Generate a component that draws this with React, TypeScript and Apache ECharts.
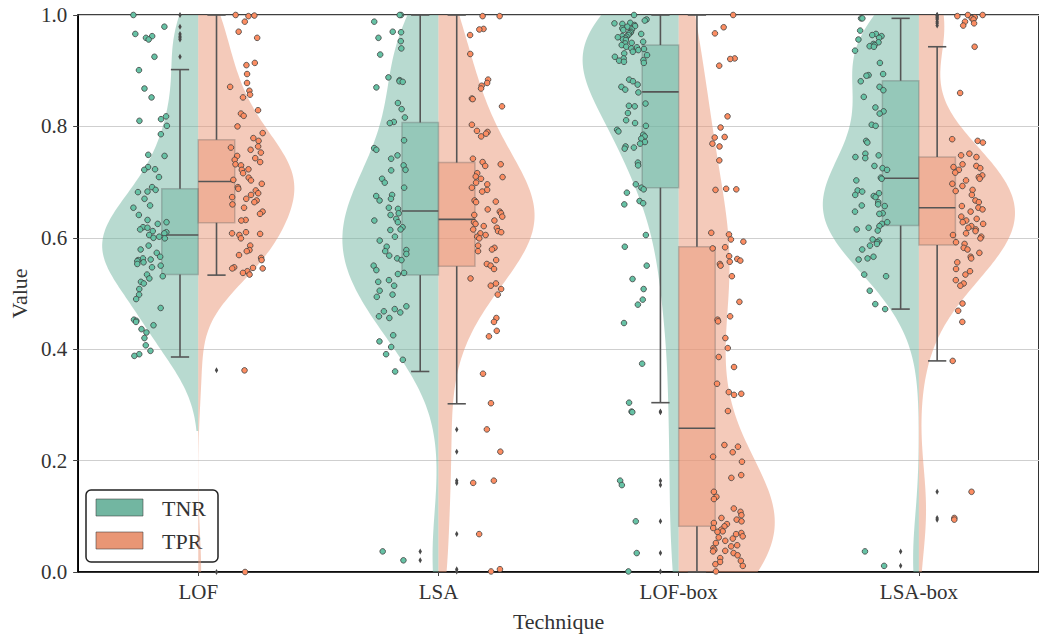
import React, { useEffect, useRef } from 'react';
import * as echarts from 'echarts';

const categories = ['LOF', 'LSA', 'LOF-box', 'LSA-box'];
const hueNames = ['TNR', 'TPR'];
const yTickValues = [0, 0.2, 0.4, 0.6, 0.8, 1.0];

// ---- strip values ----
const tnrLOF = [1.0, 0.979, 0.966, 0.962, 0.959, 0.956, 0.925, 0.901, 0.868, 0.852, 0.818, 0.813, 0.81, 0.801, 0.786, 0.749, 0.747, 0.727, 0.723, 0.722, 0.709, 0.691, 0.686, 0.683, 0.682, 0.67, 0.658, 0.654, 0.641, 0.632, 0.628, 0.625, 0.619, 0.618, 0.615, 0.612, 0.61, 0.608, 0.605, 0.602, 0.6, 0.599, 0.586, 0.579, 0.573, 0.566, 0.563, 0.561, 0.56, 0.558, 0.556, 0.553, 0.55, 0.547, 0.534, 0.531, 0.527, 0.521, 0.518, 0.508, 0.498, 0.49, 0.474, 0.453, 0.451, 0.449, 0.443, 0.436, 0.43, 0.42, 0.407, 0.397, 0.391, 0.388];
const tprLOF = [1.0, 0.999, 0.998, 0.988, 0.97, 0.959, 0.914, 0.91, 0.894, 0.878, 0.871, 0.864, 0.857, 0.852, 0.829, 0.823, 0.819, 0.8, 0.788, 0.779, 0.774, 0.764, 0.762, 0.758, 0.753, 0.747, 0.743, 0.74, 0.736, 0.732, 0.73, 0.723, 0.722, 0.716, 0.708, 0.704, 0.703, 0.697, 0.691, 0.688, 0.685, 0.68, 0.677, 0.673, 0.67, 0.667, 0.664, 0.66, 0.654, 0.647, 0.643, 0.632, 0.631, 0.61, 0.608, 0.607, 0.605, 0.599, 0.586, 0.578, 0.576, 0.569, 0.564, 0.56, 0.547, 0.546, 0.545, 0.545, 0.54, 0.537, 0.534, 0.362, 0.0];
const tnrLSA = [1.0, 1.0, 0.988, 0.97, 0.969, 0.959, 0.953, 0.94, 0.929, 0.888, 0.883, 0.881, 0.88, 0.87, 0.842, 0.831, 0.816, 0.808, 0.806, 0.775, 0.761, 0.758, 0.748, 0.742, 0.73, 0.722, 0.721, 0.706, 0.699, 0.69, 0.677, 0.675, 0.67, 0.667, 0.654, 0.652, 0.644, 0.641, 0.634, 0.631, 0.628, 0.619, 0.615, 0.614, 0.602, 0.595, 0.584, 0.578, 0.576, 0.571, 0.568, 0.563, 0.56, 0.55, 0.542, 0.537, 0.535, 0.524, 0.521, 0.514, 0.505, 0.498, 0.494, 0.477, 0.472, 0.468, 0.466, 0.459, 0.456, 0.425, 0.414, 0.404, 0.391, 0.381, 0.36, 0.037, 0.021];
const tprLSA = [0.998, 0.998, 0.975, 0.974, 0.964, 0.93, 0.884, 0.878, 0.873, 0.868, 0.85, 0.849, 0.836, 0.803, 0.792, 0.79, 0.787, 0.782, 0.742, 0.736, 0.732, 0.729, 0.716, 0.71, 0.709, 0.706, 0.699, 0.696, 0.69, 0.686, 0.683, 0.667, 0.665, 0.664, 0.651, 0.647, 0.644, 0.641, 0.638, 0.631, 0.628, 0.625, 0.621, 0.618, 0.615, 0.612, 0.61, 0.608, 0.605, 0.602, 0.599, 0.586, 0.582, 0.579, 0.576, 0.56, 0.553, 0.55, 0.544, 0.527, 0.518, 0.514, 0.508, 0.498, 0.456, 0.449, 0.433, 0.423, 0.356, 0.303, 0.256, 0.216, 0.164, 0.16, 0.068, 0.005, 0.001];
const tnrLOFbox = [1.0, 0.992, 0.99, 0.986, 0.985, 0.984, 0.982, 0.98, 0.979, 0.976, 0.974, 0.973, 0.97, 0.968, 0.967, 0.966, 0.964, 0.962, 0.961, 0.96, 0.958, 0.956, 0.955, 0.952, 0.95, 0.949, 0.946, 0.943, 0.942, 0.94, 0.939, 0.937, 0.934, 0.931, 0.928, 0.925, 0.922, 0.919, 0.918, 0.916, 0.914, 0.884, 0.881, 0.875, 0.871, 0.866, 0.861, 0.841, 0.837, 0.836, 0.824, 0.811, 0.806, 0.801, 0.794, 0.791, 0.785, 0.782, 0.778, 0.772, 0.769, 0.764, 0.762, 0.76, 0.735, 0.73, 0.696, 0.69, 0.687, 0.681, 0.666, 0.662, 0.66, 0.605, 0.584, 0.55, 0.526, 0.508, 0.489, 0.48, 0.447, 0.374, 0.304, 0.288, 0.287, 0.164, 0.156, 0.091, 0.034, 0.001];
const tprLOFbox = [1.0, 0.978, 0.967, 0.922, 0.921, 0.909, 0.818, 0.798, 0.781, 0.78, 0.769, 0.764, 0.739, 0.688, 0.687, 0.686, 0.609, 0.606, 0.597, 0.593, 0.583, 0.581, 0.567, 0.562, 0.559, 0.557, 0.553, 0.55, 0.531, 0.485, 0.459, 0.453, 0.45, 0.42, 0.402, 0.386, 0.368, 0.338, 0.323, 0.32, 0.318, 0.289, 0.228, 0.225, 0.215, 0.207, 0.198, 0.174, 0.169, 0.144, 0.135, 0.131, 0.114, 0.108, 0.102, 0.097, 0.094, 0.091, 0.088, 0.086, 0.082, 0.079, 0.076, 0.073, 0.072, 0.07, 0.068, 0.064, 0.062, 0.06, 0.056, 0.052, 0.048, 0.046, 0.043, 0.04, 0.038, 0.037, 0.034, 0.03, 0.025, 0.02, 0.018, 0.014, 0.011, 0.001];
const tnrLSAbox = [0.994, 0.994, 0.972, 0.966, 0.964, 0.962, 0.959, 0.956, 0.951, 0.948, 0.946, 0.944, 0.943, 0.936, 0.914, 0.894, 0.892, 0.891, 0.881, 0.871, 0.865, 0.853, 0.834, 0.827, 0.823, 0.803, 0.801, 0.774, 0.771, 0.751, 0.748, 0.745, 0.743, 0.729, 0.725, 0.722, 0.708, 0.706, 0.703, 0.685, 0.683, 0.68, 0.677, 0.675, 0.673, 0.664, 0.66, 0.658, 0.657, 0.647, 0.644, 0.643, 0.628, 0.625, 0.621, 0.618, 0.615, 0.613, 0.597, 0.595, 0.592, 0.589, 0.586, 0.579, 0.566, 0.563, 0.561, 0.534, 0.531, 0.505, 0.481, 0.472, 0.037, 0.011];
const tprLSAbox = [1.0, 1.0, 0.998, 0.996, 0.994, 0.992, 0.988, 0.985, 0.981, 0.943, 0.86, 0.777, 0.774, 0.771, 0.751, 0.748, 0.745, 0.732, 0.729, 0.727, 0.725, 0.722, 0.717, 0.712, 0.709, 0.706, 0.703, 0.697, 0.693, 0.686, 0.684, 0.677, 0.667, 0.664, 0.657, 0.654, 0.651, 0.647, 0.638, 0.634, 0.631, 0.628, 0.625, 0.621, 0.618, 0.615, 0.612, 0.608, 0.605, 0.602, 0.599, 0.592, 0.589, 0.582, 0.579, 0.573, 0.566, 0.563, 0.556, 0.544, 0.54, 0.534, 0.524, 0.518, 0.514, 0.482, 0.469, 0.449, 0.379, 0.144, 0.097, 0.094];

const tnrGroups = [tnrLOF, tnrLSA, tnrLOFbox, tnrLSAbox];
const tprGroups = [tprLOF, tprLSA, tprLOFbox, tprLSAbox];

// box statistics: [lower whisker, Q1, median, Q3, upper whisker]
const tnrBoxes = [
  [0.386, 0.534, 0.605, 0.688, 0.902],
  [0.36, 0.533, 0.648, 0.807, 1.0],
  [0.304, 0.69, 0.862, 0.946, 1.0],
  [0.472, 0.622, 0.707, 0.882, 0.994],
];
const tprBoxes = [
  [0.533, 0.627, 0.701, 0.776, 1.0],
  [0.302, 0.549, 0.633, 0.735, 1.0],
  [0.0, 0.082, 0.258, 0.584, 1.0],
  [0.379, 0.587, 0.654, 0.745, 0.943],
];

// ---- styling ----
const FONT = "'Liberation Serif', 'Times New Roman', serif";
const TEXT = '#333333';
const HUES = [
  { side: -1, point: '#66c2a5', fill: 'rgba(114,182,161,0.5)', solid: '#72b6a1', groups: tnrGroups, boxes: tnrBoxes },
  { side: 1, point: '#fc8d62', fill: 'rgba(233,150,117,0.5)', solid: '#e99675', groups: tprGroups, boxes: tprBoxes },
];
const VIOLIN_HALF = 0.4;
const BOX_W = 0.152;
const STRIP_OFF = 0.2;
const JITTER = 0.14;
const LINE = '#555555';

function kdeProfile(vals: number[]) {
  const n = vals.length;
  const mean = vals.reduce((a, b) => a + b, 0) / n;
  const sd = Math.sqrt(vals.reduce((a, b) => a + (b - mean) * (b - mean), 0) / (n - 1));
  const bw = sd * Math.pow(n, -0.2);
  const lo = Math.min(...vals) - 2 * bw;
  const hi = Math.max(...vals) + 2 * bw;
  const G = 240;
  const out: number[][] = [];
  let m = 0;
  for (let j = 0; j < G; j++) {
    const y = lo + ((hi - lo) * j) / (G - 1);
    let s = 0;
    for (const v of vals) {
      const z = (y - v) / bw;
      s += Math.exp(-0.5 * z * z);
    }
    out.push([y, s]);
    if (s > m) m = s;
  }
  return out.map(([y, s]) => [y, s / m]);
}

function jit(k: number, h: number) {
  const s = Math.sin(k * 12.9898 + h * 78.233) * 43758.5453;
  return s - Math.floor(s) - 0.5;
}

export default function App() {
  const ref = useRef<HTMLDivElement>(null);
  useEffect(() => {
    if (!ref.current) return;
    const chart = echarts.init(ref.current, null, { renderer: 'svg' });
    const series: any[] = [];

    HUES.forEach((hue, h) => {
      const profiles = hue.groups.map((g) => kdeProfile(g));
      series.push({
        type: 'custom',
        name: hueNames[h],
        clip: true,
        z: 2,
        encode: { x: 0, y: 1 },
        data: categories.map((_, i) => [i, 0.5]),
        renderItem: (params: any, api: any) => {
          const idx = api.value(0);
          const prof = profiles[idx];
          const band = api.size([1, 0])[0];
          const pts = prof.map(([y, d]: number[]) => {
            const c = api.coord([idx, y]);
            return [c[0] + hue.side * d * VIOLIN_HALF * band, c[1]];
          });
          const cTop = api.coord([idx, prof[prof.length - 1][0]]);
          const cBot = api.coord([idx, prof[0][0]]);
          pts.push([cTop[0], cTop[1]], [cBot[0], cBot[1]]);
          return { type: 'polygon', shape: { points: pts }, style: { fill: hue.fill, stroke: null } };
        },
      });
    });

    HUES.forEach((hue, h) => {
      series.push({
        type: 'custom',
        name: hueNames[h] + ' box',
        z: 3,
        encode: { x: 0, y: [1, 2, 3, 4, 5] },
        data: hue.boxes.map((b, i) => [i, ...b]),
        renderItem: (params: any, api: any) => {
          const idx = api.value(0);
          const band = api.size([1, 0])[0];
          const bw = BOX_W * band;
          const cx = api.coord([idx, 0])[0];
          const x0 = hue.side < 0 ? cx - bw : cx;
          const xm = x0 + bw / 2;
          const yy = [1, 2, 3, 4, 5].map((d) => api.coord([idx, api.value(d)])[1]);
          const [yLo, yQ1, yMed, yQ3, yHi] = yy;
          const ls = { stroke: LINE, lineWidth: 1.6 };
          return {
            type: 'group',
            children: [
              { type: 'rect', shape: { x: x0, y: yQ3, width: bw, height: yQ1 - yQ3 }, style: { fill: hue.fill, stroke: 'rgba(90,90,90,0.3)', lineWidth: 1.5 } },
              { type: 'line', shape: { x1: xm, y1: yQ3, x2: xm, y2: yHi }, style: ls },
              { type: 'line', shape: { x1: xm, y1: yQ1, x2: xm, y2: yLo }, style: ls },
              { type: 'line', shape: { x1: xm - bw / 4, y1: yHi, x2: xm + bw / 4, y2: yHi }, style: ls },
              { type: 'line', shape: { x1: xm - bw / 4, y1: yLo, x2: xm + bw / 4, y2: yLo }, style: ls },
              { type: 'line', shape: { x1: x0, y1: yMed, x2: x0 + bw, y2: yMed }, style: ls },
            ],
          };
        },
      });
      // fliers
      const fliers: number[][] = [];
      hue.groups.forEach((g, i) => {
        const b = hue.boxes[i];
        g.forEach((v) => {
          if (v < b[0] - 0.003 || v > b[4] + 0.003) fliers.push([i, v]);
        });
      });
      series.push({
        type: 'custom',
        name: hueNames[h] + ' fliers',
        z: 4,
        encode: { x: 0, y: 1 },
        data: fliers,
        renderItem: (params: any, api: any) => {
          const idx = api.value(0);
          const band = api.size([1, 0])[0];
          const c = api.coord([idx, api.value(1)]);
          const xm = c[0] + hue.side * (BOX_W * band) / 2;
          const y = c[1];
          return {
            type: 'polygon',
            shape: { points: [[xm, y - 3], [xm + 1.7, y], [xm, y + 3], [xm - 1.7, y]] },
            style: { fill: '#4a4a4a', stroke: null },
          };
        },
      });
    });

    HUES.forEach((hue, h) => {
      const pts: number[][] = [];
      hue.groups.forEach((g, i) => g.forEach((v, k) => pts.push([i, v, k])));
      series.push({
        type: 'custom',
        name: hueNames[h] + ' points',
        z: 5,
        encode: { x: 0, y: 1 },
        data: pts,
        renderItem: (params: any, api: any) => {
          const idx = api.value(0);
          const band = api.size([1, 0])[0];
          const c = api.coord([idx, api.value(1)]);
          const k = api.value(2);
          const x = c[0] + hue.side * STRIP_OFF * band + jit(k + idx * 131, h) * JITTER * band;
          return {
            type: 'circle',
            shape: { cx: x, cy: c[1], r: 2.8 },
            style: { fill: hue.point, stroke: '#3f3f3f', lineWidth: 0.8 },
          };
        },
      });
    });

    const legendFont = `22px ${FONT}`;
    chart.setOption({
      animation: false,
      backgroundColor: '#ffffff',
      textStyle: { fontFamily: FONT },
      grid: {
        left: 74,
        right: -5,
        top: 15,
        bottom: 63,
        show: true,
        borderColor: '#000000',
        borderWidth: 1.6,
        backgroundColor: 'transparent',
      },
      xAxis: {
        type: 'category',
        data: categories,
        boundaryGap: true,
        axisLine: { show: true, lineStyle: { color: '#000000', width: 1.6 } },
        axisTick: { show: true, alignWithLabel: true, length: 4, lineStyle: { color: '#444', width: 1 } },
        axisLabel: { color: TEXT, fontSize: 21, fontFamily: FONT, margin: 9 },
        name: 'Technique',
        nameLocation: 'middle',
        nameGap: 38,
        nameTextStyle: { color: TEXT, fontSize: 22, fontFamily: FONT },
        splitLine: { show: false },
      },
      yAxis: {
        type: 'value',
        min: 0,
        max: 1,
        interval: 0.2,
        axisLine: { show: true, lineStyle: { color: '#000000', width: 1.6 } },
        axisTick: { show: true, length: 5, lineStyle: { color: '#444', width: 1 } },
        axisLabel: {
          color: TEXT,
          fontSize: 21,
          fontFamily: FONT,
          margin: 11,
          formatter: (v: number) => (yTickValues.some((t) => Math.abs(t - v) < 1e-9) ? v.toFixed(1) : ''),
        },
        splitLine: { show: true, lineStyle: { color: '#cfcfcf', width: 1 } },
        name: 'Value',
        nameLocation: 'middle',
        nameGap: 47,
        nameRotate: 90,
        nameTextStyle: { color: TEXT, fontSize: 22, fontFamily: FONT },
      },
      graphic: [
        {
          type: 'group',
          z: 100,
          children: [
            { type: 'rect', shape: { x: 86, y: 490, width: 132, height: 72, r: 5 }, style: { fill: '#ffffff', stroke: '#222222', lineWidth: 1.5 } },
            { type: 'rect', shape: { x: 96, y: 499, width: 47, height: 17 }, style: { fill: HUES[0].solid, stroke: 'rgba(60,60,60,0.55)', lineWidth: 1 } },
            { type: 'rect', shape: { x: 96, y: 532, width: 47, height: 17 }, style: { fill: HUES[1].solid, stroke: 'rgba(60,60,60,0.55)', lineWidth: 1 } },
            { type: 'text', x: 162, y: 508, style: { text: hueNames[0], font: legendFont, fill: TEXT, verticalAlign: 'middle', align: 'left' } },
            { type: 'text', x: 162, y: 541, style: { text: hueNames[1], font: legendFont, fill: TEXT, verticalAlign: 'middle', align: 'left' } },
          ],
        },
      ],
      series,
    });
    return () => chart.dispose();
  }, []);
  return <div ref={ref} style={{ position: 'fixed', left: 0, top: 0, width: 1039, height: 637 }} />;
}
